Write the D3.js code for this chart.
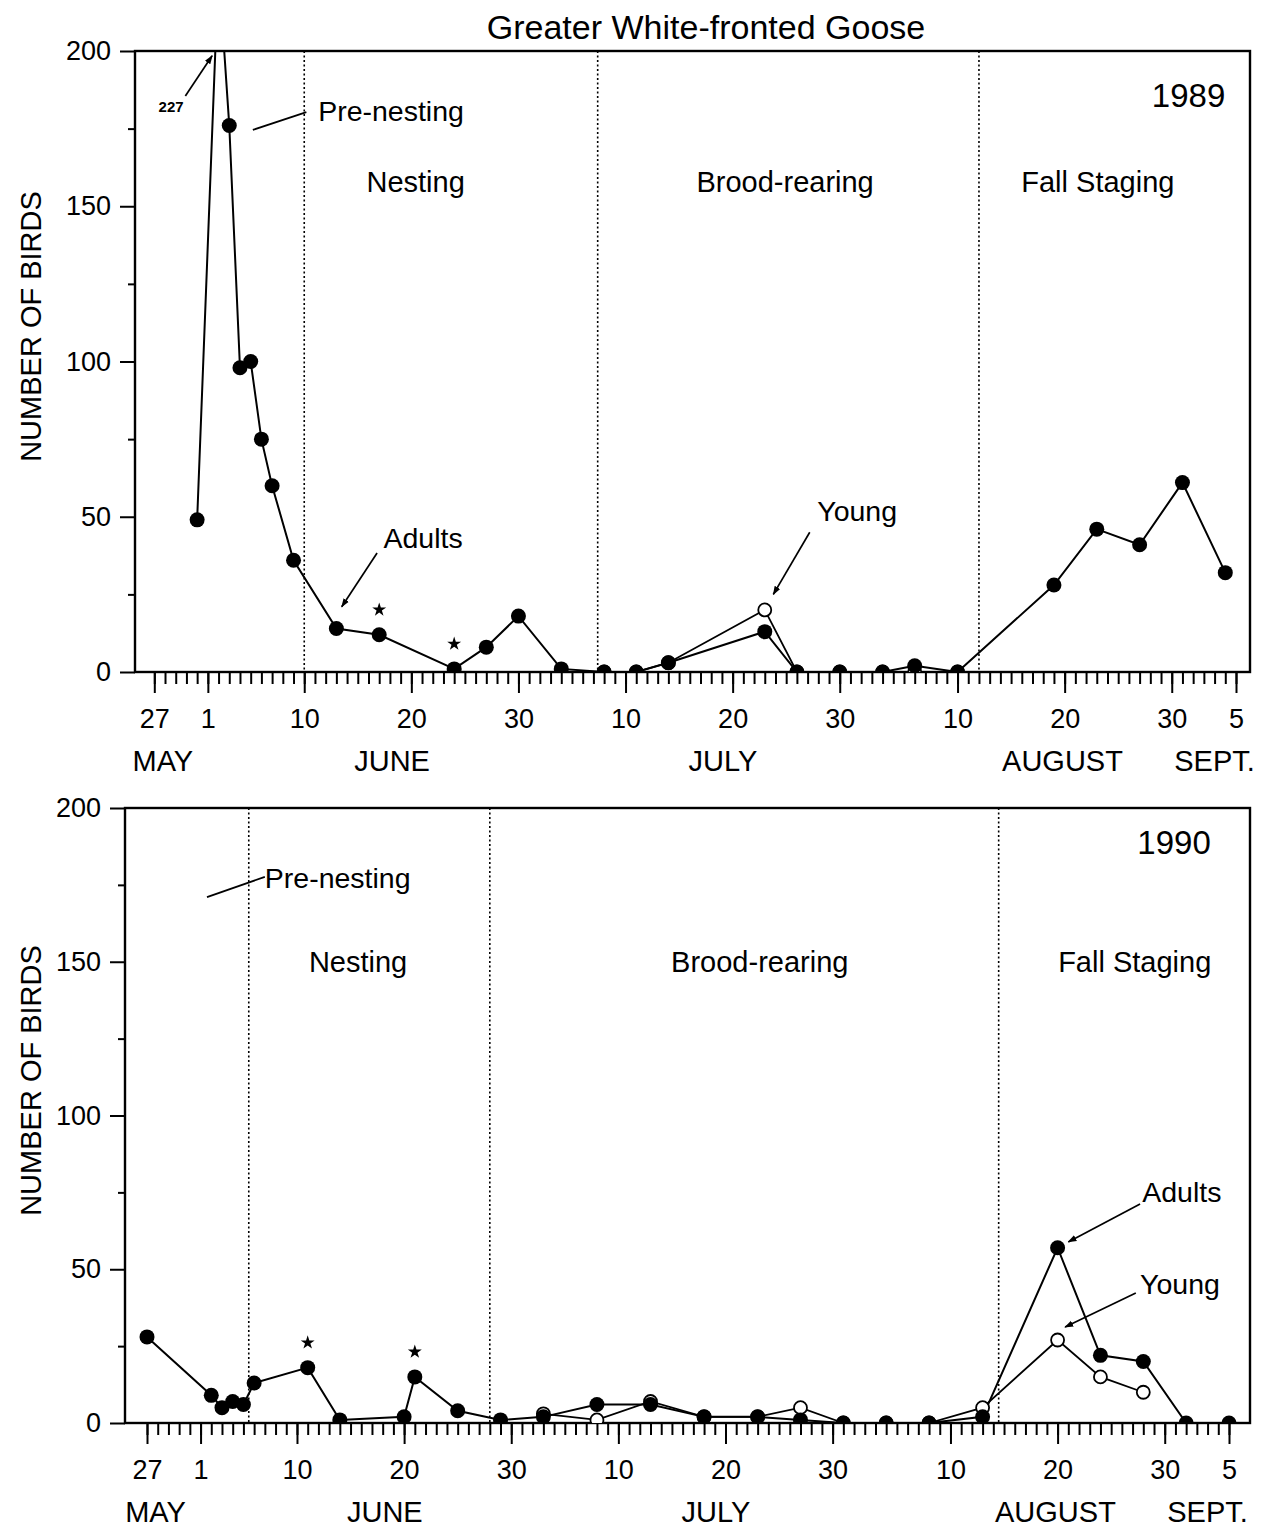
<!DOCTYPE html>
<html>
<head>
<meta charset="utf-8">
<script src="https://cdn.jsdelivr.net/npm/d3@7"></script>
<style>
body { margin: 0; background: #fff; }
text { font-family: "Liberation Sans", Arial, Helvetica, sans-serif; fill: #000; }
</style>
</head>
<body>
<svg id="chart" width="1268" height="1528"></svg>
<script>
// day numbers count from May 1 = 1 (June 1 = 32, July 1 = 62, Aug 1 = 93, Sept 1 = 124)
var days1989      = [31, 33, 34, 35, 36, 37, 38, 40, 44, 48, 55, 58, 61, 65, 69, 72, 75, 84, 87, 91, 95, 98, 102, 111, 115, 119, 123, 127];
var adults1989    = [49, 227, 176, 98, 100, 75, 60, 36, 14, 12, 1, 8, 18, 1, 0, 0, 3, 13, 0, 0, 0, 2, 0, 28, 46, 41, 61, 32];
var youngDays1989 = [69, 72, 75, 84, 87, 91, 95, 98, 102];
var young1989     = [0, 0, 3, 20, 0, 0, 0, 0, 0];
var stars1989     = [48, 55];

var days1990      = [27, 33, 34, 35, 36, 37, 42, 45, 51, 52, 56, 60, 64, 69, 74, 79, 84, 88, 92, 96, 100, 105, 112, 116, 120, 124, 128];
var adults1990    = [28, 9, 5, 7, 6, 13, 18, 1, 2, 15, 4, 1, 2, 6, 6, 2, 2, 1, 0, 0, 0, 2, 57, 22, 20, 0, 0];
var youngDays1990 = [64, 69, 74, 79, 84, 88, 92, 96, 100, 105, 112, 116, 120];
var young1990     = [3, 1, 7, 2, 2, 5, 0, 0, 0, 5, 27, 15, 10];
var stars1990     = [42, 52];

var phaseNames       = ["Pre-nesting", "Nesting", "Brood-rearing", "Fall Staging"];
var phaseBreaks1989  = [41, 68.4, 104];
var phaseBreaks1990  = [36.5, 59, 106.5];

var tickDays   = [27, 32, 41, 51, 61, 71, 81, 91, 102, 112, 122, 128];
var tickLabels = ["27", "1", "10", "20", "30", "10", "20", "30", "10", "20", "30", "5"];
var months     = ["MAY", "JUNE", "JULY", "AUGUST", "SEPT."];
var monthDays  = [27.8, 49.2, 80.1, 111.8, 126];

var yMajor = [0, 50, 100, 150, 200];
var yMinor = [25, 75, 125, 175];

var svg = d3.select("#chart");

svg.append("defs").append("marker")
    .attr("id", "head")
    .attr("viewBox", "0 0 10 10")
    .attr("refX", 9).attr("refY", 5)
    .attr("markerWidth", 9).attr("markerHeight", 9)
    .attr("markerUnits", "userSpaceOnUse")
    .attr("orient", "auto")
  .append("path")
    .attr("d", "M0,1.5L10,5L0,8.5Z")
    .attr("fill", "#000");

svg.append("text")
    .attr("x", 706).attr("y", 39)
    .attr("text-anchor", "middle")
    .style("font-size", "34px")
    .text("Greater White-fronted Goose");

var panels = [
  {
    year: "1989", days: days1989, adults: adults1989, yDays: youngDays1989, young: young1989,
    stars: stars1989, breaks: phaseBreaks1989,
    left: 135, right: 1250, top: 51, bottom: 672, x0: 154.3, x1: 1236,
    phaseLabelAt: [null, 51.4, 85.9, 115.1], phaseV: 154.6,
    yearAt: [127, 182],
    texts: [
      { t: "Pre-nesting", d: 42.3, v: 177.5, anchor: "start" },
      { t: "Adults", d: 48.4, v: 40, anchor: "start" },
      { t: "Young", d: 88.9, v: 48.6, anchor: "start" },
      { t: "227", d: 27.4, v: 180.5, anchor: "start", size: 15 }
    ],
    arrows: [
      { d1: 36.2, v1: 174.6, d2: 41.2, v2: 180.3, head: false },
      { d1: 29.9, v1: 185.5, d2: 32.4, v2: 198.5, head: true },
      { d1: 47.8, v1: 38.3, d2: 44.5, v2: 21, head: true },
      { d1: 88.2, v1: 45, d2: 84.8, v2: 25, head: true }
    ]
  },
  {
    year: "1990", days: days1990, adults: adults1990, yDays: youngDays1990, young: young1990,
    stars: stars1990, breaks: phaseBreaks1990,
    left: 125, right: 1250, top: 808, bottom: 1423, x0: 147, x1: 1229,
    phaseLabelAt: [null, 46.7, 84.2, 119.2], phaseV: 146.7,
    yearAt: [126.3, 185],
    texts: [
      { t: "Pre-nesting", d: 38, v: 174, anchor: "start" },
      { t: "Adults", d: 119.9, v: 71.9, anchor: "start" },
      { t: "Young", d: 119.7, v: 42, anchor: "start" }
    ],
    arrows: [
      { d1: 32.6, v1: 171, d2: 38, v2: 177.6, head: false },
      { d1: 119.7, v1: 71.2, d2: 113, v2: 58.9, head: true },
      { d1: 119.3, v1: 42.3, d2: 112.7, v2: 31.2, head: true }
    ]
  }
];

panels.forEach(function(p, pi) {

  var x = d3.scaleLinear().domain([27, 128]).range([p.x0, p.x1]);
  var y = d3.scaleLinear().domain([0, 200]).range([p.bottom, p.top]);
  var g = svg.append("g");

  g.append("clipPath").attr("id", "clip" + pi)
    .append("rect")
      .attr("x", p.left).attr("y", p.top)
      .attr("width", p.right - p.left).attr("height", p.bottom - p.top);

  // phase separators
  g.selectAll(".brk")
      .data(p.breaks)
      .enter()
      .append("line")
      .attr("x1", function(d) { return x(d); })
      .attr("x2", function(d) { return x(d); })
      .attr("y1", p.top).attr("y2", p.bottom)
      .attr("stroke", "#000")
      .attr("stroke-width", 1.6)
      .attr("stroke-dasharray", "2,2.5");

  // frame
  g.append("rect")
      .attr("x", p.left).attr("y", p.top)
      .attr("width", p.right - p.left).attr("height", p.bottom - p.top)
      .attr("fill", "none").attr("stroke", "#000").attr("stroke-width", 2.4);

  // y axis
  g.append("g").attr("transform", "translate(" + p.left + ",0)")
      .call(d3.axisLeft(y).tickValues(yMajor).tickSize(15).tickPadding(9));
  g.append("g").attr("transform", "translate(" + p.left + ",0)")
      .call(d3.axisLeft(y).tickValues(yMinor).tickSize(7).tickFormat(""));

  // x axis
  g.append("g").attr("transform", "translate(0," + p.bottom + ")")
      .call(d3.axisBottom(x).tickValues(d3.range(27, 129)).tickSize(12).tickFormat(""));
  var xAx = g.append("g").attr("transform", "translate(0," + p.bottom + ")")
      .call(d3.axisBottom(x).tickValues(tickDays).tickSize(21).tickPadding(16)
        .tickFormat(function(d, i) { return tickLabels[i]; }));

  g.selectAll(".domain").remove();
  g.selectAll(".tick line").attr("stroke-width", 2);
  g.selectAll(".tick text").style("font-size", "27px").attr("fill", "#000");

  g.selectAll(".month")
      .data(months)
      .enter()
      .append("text")
      .attr("x", function(d, i) { return x(monthDays[i]); })
      .attr("y", p.bottom + 99)
      .attr("text-anchor", "middle")
      .style("font-size", "29px")
      .text(function(d) { return d; });

  g.append("text")
      .attr("transform", "translate(41," + ((p.top + p.bottom) / 2 - 35) + ") rotate(-90)")
      .attr("text-anchor", "middle")
      .style("font-size", "29px")
      .text("NUMBER OF BIRDS");

  // phase labels and year
  g.selectAll(".phase")
      .data(phaseNames.slice(1))
      .enter()
      .append("text")
      .attr("x", function(d, i) { return x(p.phaseLabelAt[i + 1]); })
      .attr("y", y(p.phaseV))
      .attr("text-anchor", "middle")
      .style("font-size", "29px")
      .text(function(d) { return d; });

  g.append("text")
      .attr("x", x(p.yearAt[0])).attr("y", y(p.yearAt[1]))
      .attr("text-anchor", "end")
      .style("font-size", "33px")
      .text(p.year);

  p.texts.forEach(function(t) {
    g.append("text")
        .attr("x", x(t.d)).attr("y", y(t.v))
        .attr("text-anchor", t.anchor)
        .style("font-size", (t.size || 28.5) + "px")
        .style("font-weight", t.size ? "bold" : "normal")
        .text(t.t);
  });

  p.arrows.forEach(function(a) {
    g.append("line")
        .attr("x1", x(a.d1)).attr("y1", y(a.v1))
        .attr("x2", x(a.d2)).attr("y2", y(a.v2))
        .attr("stroke", "#000").attr("stroke-width", 1.7)
        .attr("marker-end", a.head ? "url(#head)" : null);
  });

  // series
  var plot = g.append("g").attr("clip-path", "url(#clip" + pi + ")");
  var line = d3.line()
      .x(function(d) { return x(d[0]); })
      .y(function(d) { return y(d[1]); });

  var youngPts = p.yDays.map(function(d, i) { return [d, p.young[i]]; });
  var adultPts = p.days.map(function(d, i) { return [d, p.adults[i]]; });

  plot.append("path").datum(youngPts)
      .attr("d", line).attr("fill", "none")
      .attr("stroke", "#000").attr("stroke-width", 1.8);
  plot.append("path").datum(adultPts)
      .attr("d", line).attr("fill", "none")
      .attr("stroke", "#000").attr("stroke-width", 2);

  plot.selectAll(".yc")
      .data(youngPts)
      .enter()
      .append("circle")
      .attr("cx", function(d) { return x(d[0]); })
      .attr("cy", function(d) { return y(d[1]); })
      .attr("r", 6.5)
      .attr("fill", "#fff").attr("stroke", "#000").attr("stroke-width", 1.8);

  plot.selectAll(".ac")
      .data(adultPts.filter(function(d) { return d[1] <= 200; }))
      .enter()
      .append("circle")
      .attr("cx", function(d) { return x(d[0]); })
      .attr("cy", function(d) { return y(d[1]); })
      .attr("r", 7.5)
      .attr("fill", "#000");

  // significance stars above the flagged counts
  g.selectAll(".star")
      .data(p.stars)
      .enter()
      .append("path")
      .attr("d", d3.symbol(d3.symbolStar, 60))
      .attr("transform", function(d) {
        var v = p.adults[p.days.indexOf(d)];
        return "translate(" + x(d) + "," + (y(v) - 25) + ")";
      })
      .attr("fill", "#000");
});
</script>
</body>
</html>
